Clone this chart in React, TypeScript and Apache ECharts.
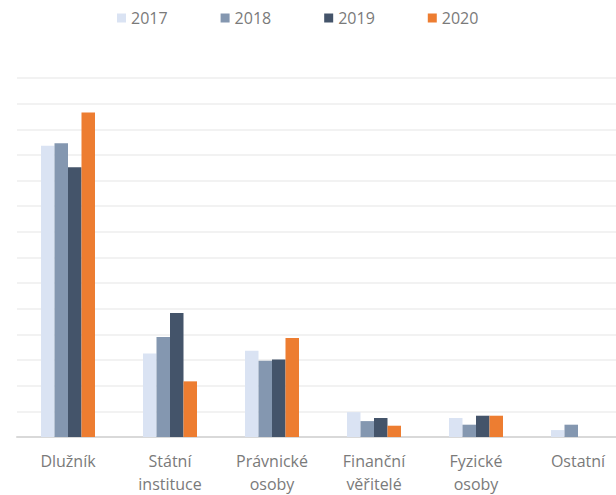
import React, { useEffect, useRef } from "react";
import * as echarts from "echarts";

const categories = ["Dlužník", "Státní\ninstituce", "Právnické\nosoby", "Finanční\nvěřitelé", "Fyzické\nosoby", "Ostatní"];
const years = ["2017", "2018", "2019", "2020"];
const v2017 = [11.36, 3.26, 3.36, 0.97, 0.74, 0.27];
const v2018 = [11.46, 3.9, 2.97, 0.62, 0.48, 0.48];
const v2019 = [10.52, 4.84, 3.02, 0.74, 0.83, null];
const v2020 = [12.65, 2.17, 3.86, 0.44, 0.83, null];
const colors = ["#DAE3F3", "#8497B0", "#44546A", "#ED7D31"];

export default function App() {
  const ref = useRef<HTMLDivElement>(null);
  useEffect(() => {
    if (!ref.current) return;
    const chart = echarts.init(ref.current, null, { renderer: "svg" });
    const data = [v2017, v2018, v2019, v2020];
    chart.setOption({
      animation: false,
      textStyle: { fontFamily: "Open Sans" },
      legend: {
        data: years,
        left: 112,
        top: 5,
        itemWidth: 9,
        itemHeight: 9,
        itemGap: 53,
        icon: "rect",
        textStyle: { fontFamily: "Open Sans", fontSize: 16, color: "#7a7a7a" },
      },
      grid: { left: 17, width: 612, top: 78, bottom: 56, containLabel: false },
      xAxis: {
        type: "category",
        data: categories,
        axisLine: { lineStyle: { color: "#d9d9d9", width: 2 } },
        axisTick: { show: false },
        axisLabel: {
          interval: 0,
          margin: 12,
          fontFamily: "Open Sans",
          fontSize: 16,
          lineHeight: 23,
          color: "#7a7a7a",
        },
      },
      yAxis: {
        type: "value",
        min: 0,
        max: 14,
        interval: 1,
        axisLabel: { show: false },
        axisLine: { show: false },
        axisTick: { show: false },
        splitLine: { lineStyle: { color: "#eeeeee", width: 1.5 } },
      },
      series: years.map((y, i) => ({
        name: y,
        type: "bar",
        data: data[i],
        barWidth: 13.5,
        barGap: "0%",
        itemStyle: { color: colors[i] },
      })),
    });
    return () => chart.dispose();
  }, []);
  return (
    <div style={{ width: 616, height: 495, position: "absolute", left: 0, top: 0, overflow: "hidden" }}>
      <div ref={ref} style={{ width: 660, height: 495 }} />
    </div>
  );
}
